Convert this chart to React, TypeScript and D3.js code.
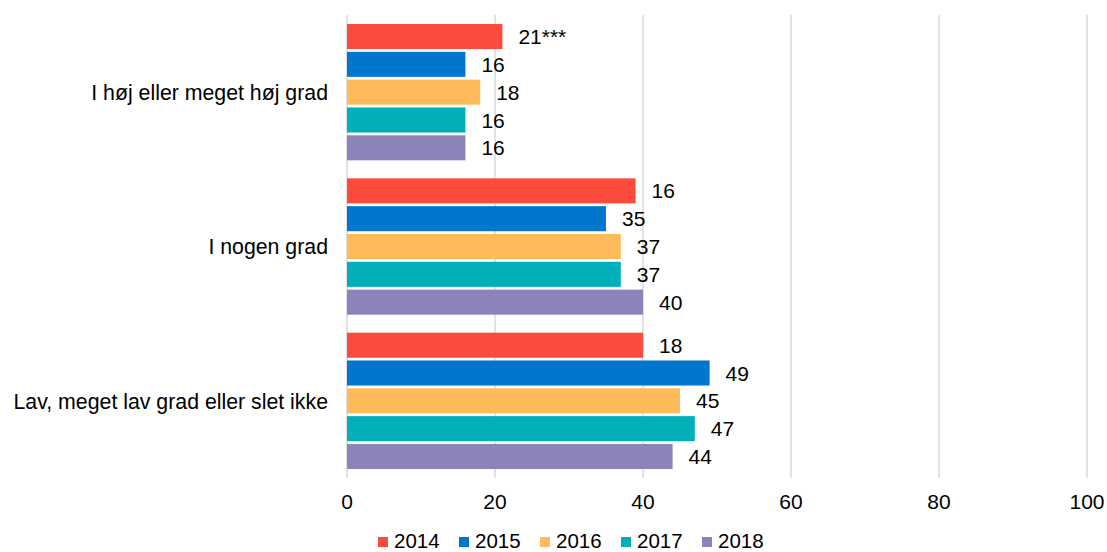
import React from "react";
import * as d3 from "d3";

const categories = ["I høj eller meget høj grad", "I nogen grad", "Lav, meget lav grad eller slet ikke"];
const years = ["2014", "2015", "2016", "2017", "2018"];
const colors = ["#FA4B3C", "#0176CF", "#FFBA5A", "#00AFB9", "#8A84BB"];
// values[category][year]
const values2014 = [21, 39, 40];
const values2015 = [16, 35, 49];
const values2016 = [18, 37, 45];
const values2017 = [16, 37, 47];
const values2018 = [16, 40, 44];
const labels2014 = ["21***", "16", "18"];
const labels2015 = ["16", "35", "49"];
const labels2016 = ["18", "37", "45"];
const labels2017 = ["16", "37", "47"];
const labels2018 = ["16", "40", "44"];
const xTicks = [0, 20, 40, 60, 80, 100];

const seriesValues = [values2014, values2015, values2016, values2017, values2018];
const seriesLabels = [labels2014, labels2015, labels2016, labels2017, labels2018];

export default function App() {
  const W = 1107, H = 552;
  const left = 347, right = 1087, top = 15, bottom = 478;
  const x = d3.scaleLinear().domain([0, 100]).range([left, right]);
  const y0 = d3.scaleBand<string>().domain(categories).range([top, bottom]).padding(0);
  const bw = y0.bandwidth();
  const y1 = d3.scaleBand<string>().domain(years).range([9, bw - 9]).paddingInner(0.1).paddingOuter(0);
  const font = "'Liberation Sans', Arial, sans-serif";
  const legendStart = 378, legendStep = 81;
  return (
    <svg width={W} height={H} style={{ position: "absolute", left: 0, top: 0, background: "#fff" }} fontFamily={font}>
      {xTicks.map((t) => (
        <line key={"g" + t} x1={x(t)} x2={x(t)} y1={top} y2={bottom} stroke="#D9D9D9" strokeWidth={1.5} />
      ))}
      {categories.map((c, ci) => (
        <g key={c}>
          {years.map((yr, si) => {
            const v = seriesValues[si][ci];
            const yy = (y0(c) as number) + (y1(yr) as number);
            return (
              <g key={yr}>
                <rect x={x(0)} y={yy} width={x(v) - x(0)} height={y1.bandwidth()} fill={colors[si]} />
                <text x={x(v) + 16} y={yy + y1.bandwidth() / 2} dy="0.36em" fontSize={21} fill="#000">
                  {seriesLabels[si][ci]}
                </text>
              </g>
            );
          })}
          <text x={left - 19} y={(y0(c) as number) + bw / 2} dy="0.36em" fontSize={21.3} textAnchor="end" fill="#000">
            {c}
          </text>
        </g>
      ))}
      {xTicks.map((t) => (
        <text key={"t" + t} x={x(t)} y={501} dy="0.36em" fontSize={21} textAnchor="middle" fill="#000">
          {t}
        </text>
      ))}
      {years.map((yr, i) => (
        <g key={"l" + yr} transform={`translate(${legendStart + i * legendStep},541)`}>
          <rect x={0} y={-4} width={10} height={10} fill={colors[i]} />
          <text x={16} y={0} dy="0.36em" fontSize={20.5} fill="#000">{yr}</text>
        </g>
      ))}
    </svg>
  );
}
